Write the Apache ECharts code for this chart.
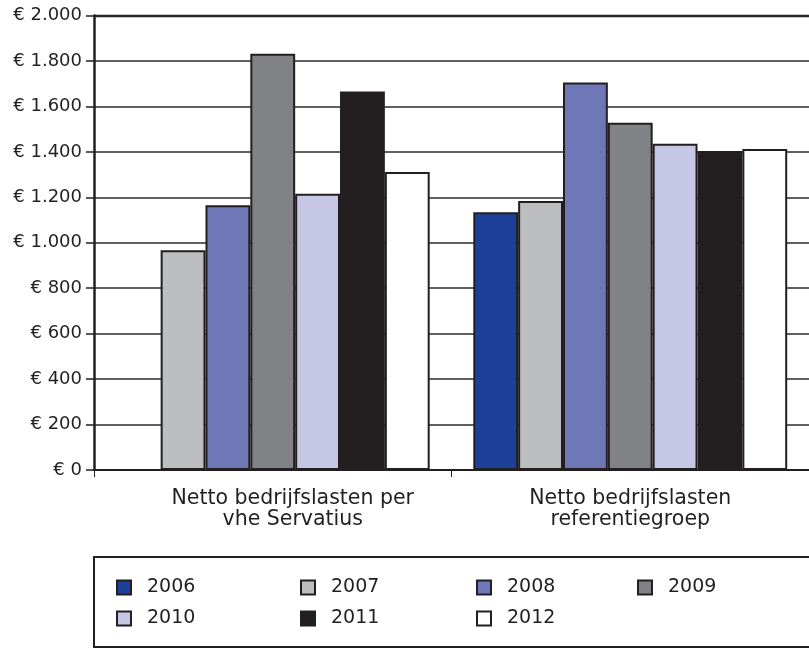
<!DOCTYPE html>
<html><head><meta charset="utf-8">
<script src="https://cdn.jsdelivr.net/npm/echarts@6/dist/echarts.min.js"></script>
<style>html,body{margin:0;padding:0;background:#fff}#c{width:809px;height:648px}</style>
</head><body><div id="c"></div>
<script>
const categories = ['Netto bedrijfslasten per\nvhe Servatius', 'Netto bedrijfslasten\nreferentiegroep'];
const years = ['2006','2007','2008','2009','2010','2011','2012'];
const v2006 = [null, 1134];
const v2007 = [967, 1184];
const v2008 = [1165, 1705];
const v2009 = [1832, 1528];
const v2010 = [1216, 1436];
const v2011 = [1666, 1404];
const v2012 = [1311, 1412];
const yMin = 0, yMax = 2000, yStep = 200;

const seriesValues = [v2006, v2007, v2008, v2009, v2010, v2011, v2012];
const colors = ['#1d4098','#bcbec0','#6e78b6','#808285','#c6c7e5','#231f20','#ffffff'];
const dark = '#231f20';
const font = '"DejaVu Sans", "Liberation Sans", Arial, sans-serif';
const labelShift = [40, 0];

function fmt(v){ return '€ ' + String(v).replace(/\B(?=(\d{3})+(?!\d))/g, '.'); }

const legendPos = [[116,582],[300,582],[476,582],[637,582],[116,613],[300,613],[476,613]];
const legends = years.map((y,i)=>({
  data:[y], left: legendPos[i][0], top: legendPos[i][1] - 4,
  itemWidth: 14, itemHeight: 14, itemGap: 0, padding: 0,
  icon: 'rect',
  itemStyle: { borderColor: dark, borderWidth: 2 },
  textStyle: { fontFamily: font, fontSize: 19, color: dark, padding: [0,0,0,11] },
  selectedMode: false
}));

const chart = echarts.init(document.getElementById('c'), null, {renderer:'canvas'});
chart.setOption({
  animation: false,
  backgroundColor: '#fff',
  color: colors,
  grid: { left: 94, right: -2, top: 15.5, bottom: 178, containLabel: false },
  legend: legends,
  xAxis: {
    type: 'category',
    data: categories.map((c,i)=>({ value: c, textStyle: { padding: [0,0,0,labelShift[i]] } })),
    axisLine: { show: true, lineStyle: { color: dark, width: 2 } },
    axisTick: { show: true, length: 7, lineStyle: { color: dark, width: 1 } },
    axisLabel: { fontFamily: font, fontSize: 20.5, color: dark, margin: 18, lineHeight: 21 }
  },
  yAxis: {
    type: 'value', min: yMin, max: yMax, interval: yStep,
    axisLine: { show: true, lineStyle: { color: dark, width: 2.5 } },
    axisTick: { show: true, length: 8, lineStyle: { color: dark, width: 1.5 } },
    splitLine: { show: true, lineStyle: { color: '#2b2b2b', width: 1.5 } },
    axisLabel: { fontFamily: font, fontSize: 18, color: dark, margin: 12, formatter: fmt }
  },
  series: years.map((y,i)=>({
    name: y, type: 'bar', data: seriesValues[i],
    barGap: '0%', barCategoryGap: '12.2%',
    itemStyle: { color: colors[i], borderColor: dark, borderWidth: 2 }
  })),
  graphic: [{
    type: 'rect',
    shape: { x: 94, y: 557, width: 730, height: 90 },
    style: { fill: 'none', stroke: dark, lineWidth: 2 }, silent: true
  },{
    type: 'line', shape: { x1: 94, y1: 16, x2: 809, y2: 16 },
    style: { stroke: dark, lineWidth: 2.5 }, silent: true
  }]
});
</script></body></html>
